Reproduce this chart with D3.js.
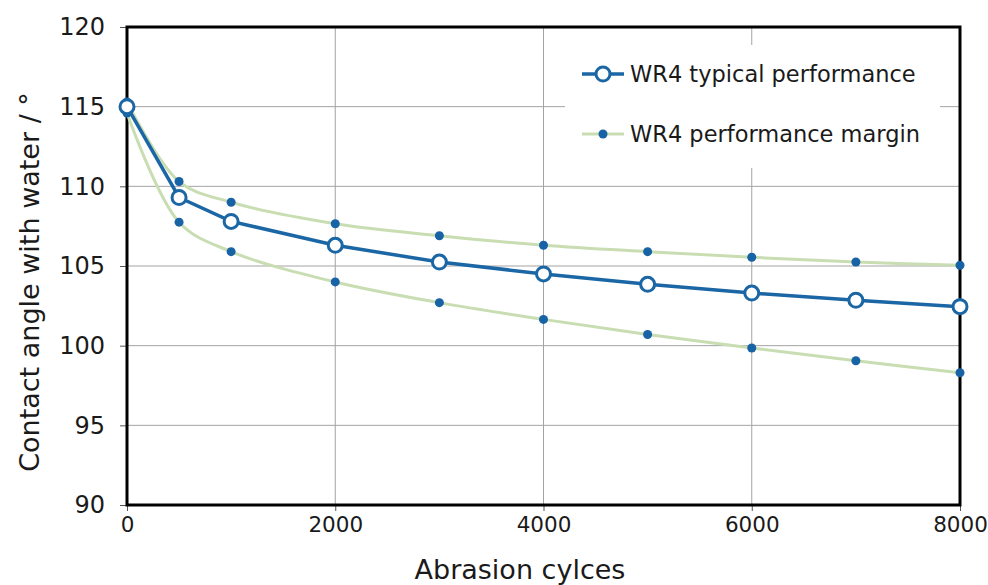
<!DOCTYPE html>
<html lang="en">
<head>
    <meta charset="utf-8" />
    <title>Contact angle vs abrasion cycles</title>
    <script src="https://d3js.org/d3.v7.min.js"></script>
    <style>
        body { margin: 0; background: #fff; }
        text { font-family: "DejaVu Sans", Verdana, sans-serif; fill: #1a1a1a; }
    </style>
</head>
<body>
    <svg id="chart"></svg>
    <script>
        let width = 988, height = 585;

        // data
        var cycles = [0, 500, 1000, 2000, 3000, 4000, 5000, 6000, 7000, 8000];
        var typical = [115.0, 109.3, 107.8, 106.3, 105.25, 104.5, 103.85, 103.3, 102.85, 102.45];
        var marginHigh = [115.3, 110.3, 109.0, 107.65, 106.9, 106.3, 105.9, 105.55, 105.25, 105.05];
        var marginLow = [114.6, 107.75, 105.9, 104.0, 102.7, 101.65, 100.7, 99.85, 99.05, 98.3];
        var xTicks = [0, 2000, 4000, 6000, 8000];
        var yTicks = [90, 95, 100, 105, 110, 115, 120];
        var legendLabels = ["WR4 typical performance", "WR4 performance margin"];

        var blue = "#1b66a4", dotBlue = "#1862a6", green = "#c9ddb3";

        let svg = d3.select("#chart")
            .attr("width", width)
            .attr("height", height);

        let plotLeft = 127, plotRight = 960, plotTop = 27, plotBottom = 505;

        var x = d3.scaleLinear().domain([0, 8000]).range([plotLeft, plotRight]);
        var y = d3.scaleLinear().domain([90, 120]).range([plotBottom, plotTop]);

        // gridlines
        svg.append("g")
            .selectAll("line")
            .data(yTicks.slice(1, -1))
            .enter().append("line")
            .attr("x1", plotLeft).attr("x2", plotRight)
            .attr("y1", d => y(d)).attr("y2", d => y(d))
            .attr("stroke", "#a3a3a3").attr("stroke-width", 1);

        svg.append("g")
            .selectAll("line")
            .data(xTicks.slice(1, -1))
            .enter().append("line")
            .attr("y1", plotTop).attr("y2", plotBottom)
            .attr("x1", d => x(d)).attr("x2", d => x(d))
            .attr("stroke", "#a3a3a3").attr("stroke-width", 1);

        // axes
        let yAxis = svg.append("g")
            .attr("transform", "translate(" + plotLeft + ",0)")
            .call(d3.axisLeft(y).tickValues(yTicks).tickSize(7).tickPadding(15));
        let xAxis = svg.append("g")
            .attr("transform", "translate(0," + plotBottom + ")")
            .call(d3.axisBottom(x).tickValues(xTicks).tickSize(6).tickPadding(6).tickFormat(d3.format("d")));

        yAxis.selectAll("text").style("font-size", "24px");
        xAxis.selectAll("text").style("font-size", "21.5px");
        [yAxis, xAxis].forEach(a => {
            a.select(".domain").remove();
            a.selectAll(".tick line").attr("stroke", "#555");
            a.selectAll("text").attr("fill", "#1a1a1a");
        });

        // plot border
        svg.append("rect")
            .attr("x", plotLeft).attr("y", plotTop)
            .attr("width", plotRight - plotLeft).attr("height", plotBottom - plotTop)
            .attr("fill", "none").attr("stroke", "#000").attr("stroke-width", 3);

        // legend background
        svg.append("rect")
            .attr("x", 565).attr("y", 45)
            .attr("width", 375).attr("height", 123)
            .attr("fill", "#fff");

        // series
        var lineLinear = d3.line().x((d, i) => x(cycles[i])).y(d => y(d));
        var lineSmooth = d3.line().x((d, i) => x(cycles[i])).y(d => y(d)).curve(d3.curveCatmullRom.alpha(0.5));

        [marginHigh, marginLow].forEach(s => {
            svg.append("path")
                .attr("d", lineSmooth(s))
                .attr("fill", "none")
                .attr("stroke", green)
                .attr("stroke-width", 3);
        });

        [marginHigh, marginLow].forEach(s => {
            svg.append("g")
                .selectAll("circle")
                .data(s)
                .enter().append("circle")
                .attr("cx", (d, i) => x(cycles[i]))
                .attr("cy", d => y(d))
                .attr("r", 4.5)
                .attr("fill", dotBlue);
        });

        svg.append("path")
            .attr("d", lineLinear(typical))
            .attr("fill", "none")
            .attr("stroke", blue)
            .attr("stroke-width", 3.5);

        svg.append("g")
            .selectAll("circle")
            .data(typical)
            .enter().append("circle")
            .attr("cx", (d, i) => x(cycles[i]))
            .attr("cy", d => y(d))
            .attr("r", 7)
            .attr("fill", "#fff")
            .attr("stroke", blue)
            .attr("stroke-width", 3);

        // legend
        let legend = svg.append("g").attr("transform", "translate(582,0)");
        let rows = [74, 134];

        legend.append("line")
            .attr("x1", 0).attr("x2", 42).attr("y1", rows[0]).attr("y2", rows[0])
            .attr("stroke", blue).attr("stroke-width", 3.5);
        legend.append("circle")
            .attr("cx", 21).attr("cy", rows[0]).attr("r", 7)
            .attr("fill", "#fff").attr("stroke", blue).attr("stroke-width", 3);

        legend.append("line")
            .attr("x1", 0).attr("x2", 42).attr("y1", rows[1]).attr("y2", rows[1])
            .attr("stroke", green).attr("stroke-width", 3);
        legend.append("circle")
            .attr("cx", 21).attr("cy", rows[1]).attr("r", 4.5)
            .attr("fill", dotBlue);

        legend.selectAll("text.lbl")
            .data(legendLabels)
            .enter().append("text")
            .attr("class", "lbl")
            .attr("x", 48)
            .attr("y", (d, i) => rows[i])
            .attr("dy", "0.35em")
            .style("font-size", "22.5px")
            .text(d => d);

        // axis titles
        svg.append("text")
            .attr("x", 520)
            .attr("y", 579)
            .attr("text-anchor", "middle")
            .style("font-size", "27px")
            .text("Abrasion cylces");

        svg.append("text")
            .attr("transform", "translate(39,282) rotate(-90)")
            .attr("text-anchor", "middle")
            .style("font-size", "27px")
            .text("Contact angle with water / °");
    </script>
</body>
</html>
